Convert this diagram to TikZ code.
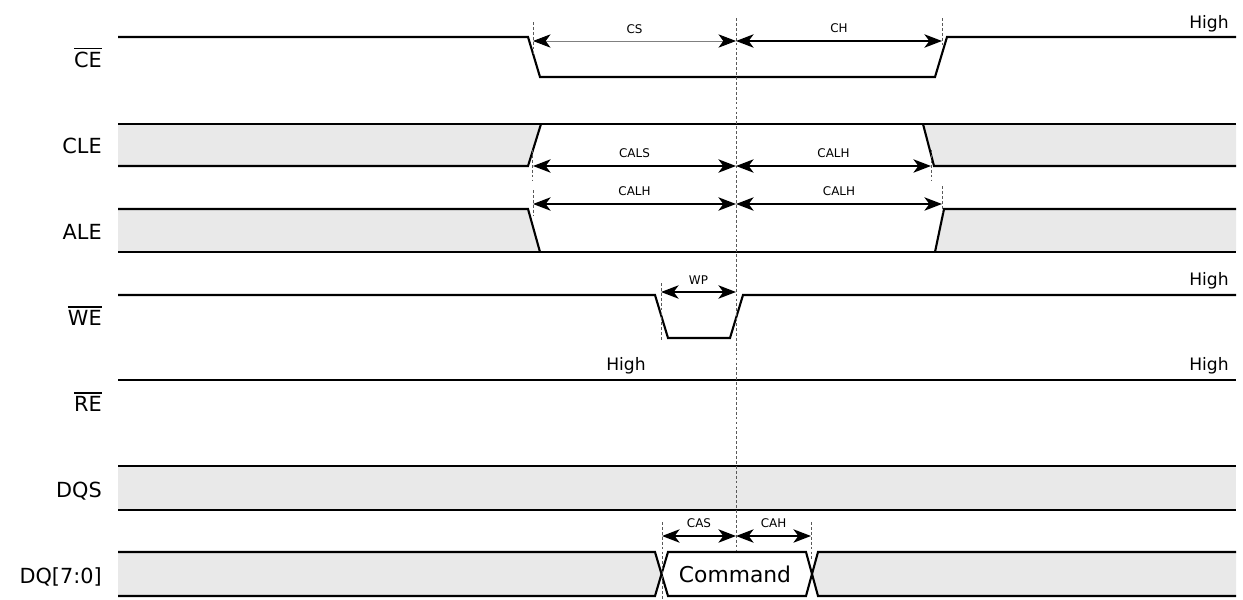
\documentclass[tikz,border=0pt]{standalone}
\usepackage{fontspec}
\setmainfont{DejaVu Sans}
\usetikzlibrary{arrows.meta, positioning, calc}
\definecolor{BusGray}{HTML}{E9E9E9}
\newcommand{\barsig}[1]{\vbox{\hrule height 1.2pt\kern1.5pt\hbox{#1}}}

\tikzset{
  sig/.style={line width=1.5pt, line join=miter},
  busfill/.style={fill=BusGray, draw=none},
  tickline/.style={gray!70!black, line width=0.4pt, dash pattern=on 2pt off 1.5pt},
  dim/.style={<->, line width=1.3pt},
  signame/.style={font=\fontsize{14.8}{16}\selectfont, anchor=base east, inner sep=0pt},
  highlbl/.style={font=\fontsize{12.2}{14}\selectfont, inner sep=0pt},
  tlbl/.style={font=\fontsize{8.5}{10}\selectfont, inner sep=0pt, midway, above=5pt}
}

\begin{document}
\begin{tikzpicture}[x=0.025cm, y=-0.025cm,
  >={Stealth[length=12.5pt, width=9.5pt, inset=3.5pt]}]
  \useasboundingbox (0,0) rectangle (1243,599);

  % --- timing points ---
  \coordinate (tCS)  at (533,0);
  \coordinate (tWP)  at (661,0);
  \coordinate (tRef) at (736,0);
  \coordinate (tCAH) at (811,0);
  \coordinate (tCLE) at (931,0);
  \coordinate (tCH)  at (942,0);

  % --- signal names ---
  \node[signame] (nCE)  at (102,67)  {\barsig{CE}};
  \node[signame] (nCLE) at (102,153) {CLE};
  \node[signame] (nALE) at (102,239) {ALE};
  \node[signame] (nWE)  at (102,325) {\barsig{WE}};
  \node[signame] (nRE)  at (102,411) {\barsig{RE}};
  \node[signame] (nDQS) at (102,497) {DQS};
  \node[signame] (nDQ)  at (102,583) {DQ[7:0]};

  % --- CE ---
  \draw[sig] (118,37) -- (528,37) -- (540,77) -- (935,77) -- (947,37) -- (1236,37);
  \node[highlbl, anchor=base east] (hCE) at (1229,28) {High};

  % --- CLE ---
  \fill[busfill] (118,124) -- (541,124) -- (528,166) -- (118,166) -- cycle;
  \fill[busfill] (923,124) -- (1236,124) -- (1236,166) -- (934,166) -- cycle;
  \draw[sig] (118,124) -- (1236,124);
  \draw[sig] (118,166) -- (528,166) -- (541,124);
  \draw[sig] (923,124) -- (934,166) -- (1236,166);

  % --- ALE ---
  \fill[busfill] (118,209) -- (528,209) -- (540,252) -- (118,252) -- cycle;
  \fill[busfill] (944,209) -- (1236,209) -- (1236,252) -- (935,252) -- cycle;
  \draw[sig] (118,252) -- (1236,252);
  \draw[sig] (118,209) -- (528,209) -- (540,252);
  \draw[sig] (935,252) -- (944,209) -- (1236,209);

  % --- WE ---
  \draw[sig] (118,295) -- (655,295) -- (668,338) -- (730,338) -- (743,295) -- (1236,295);
  \node[highlbl, anchor=base east] (hWE) at (1229,285) {High};

  % --- RE ---
  \draw[sig] (118,380) -- (1236,380);
  \node[highlbl, anchor=base] (hREa) at (626,370) {High};
  \node[highlbl, anchor=base east] (hREb) at (1229,370) {High};

  % --- DQS ---
  \fill[busfill] (118,466) rectangle (1236,510);
  \draw[sig] (118,466) -- (1236,466);
  \draw[sig] (118,510) -- (1236,510);

  % --- DQ[7:0] ---
  \fill[busfill] (118,552) -- (655,552) -- (661.5,574) -- (655,596) -- (118,596) -- cycle;
  \fill[busfill] (1236,552) -- (818,552) -- (812,574) -- (818,596) -- (1236,596) -- cycle;
  \draw[sig] (118,552) -- (655,552) -- (668,596) -- (806,596) -- (818,552) -- (1236,552);
  \draw[sig] (118,596) -- (655,596) -- (668,552) -- (806,552) -- (818,596) -- (1236,596);
  \node[font=\fontsize{15.5}{17}\selectfont, anchor=base, inner sep=0pt] (cmd) at (735,582) {Command};

  % --- markers ---
  \draw[tickline] (tRef |- 0,18) -- (tRef |- 0,550);
  \draw[tickline] (tCS |- 0,22) -- (tCS |- 0,55);
  \draw[tickline] (tCH |- 0,18) -- (tCH |- 0,45);
  \draw[tickline] (532,150) -- (532,180);
  \draw[tickline] (tCLE |- 0,150) -- (tCLE |- 0,180);
  \draw[tickline] (tCS |- 0,190) -- (tCS |- 0,215);
  \draw[tickline] (tCH |- 0,186) -- (tCH |- 0,215);
  \draw[tickline] (tWP |- 0,283) -- (tWP |- 0,340);
  \draw[tickline] (662,522) -- (662,599);
  \draw[tickline] (tCAH |- 0,522) -- (tCAH |- 0,560);

  % --- timing parameters ---
  \draw[dim, line width=0.6pt, gray, >={Stealth[length=12.5pt, width=9.5pt, inset=3.5pt, black]}]
    (tCS |- 0,41) -- node[tlbl, black] (lCS) {CS} (tRef |- 0,41);
  \draw[dim] (tRef |- 0,41) -- node[tlbl] (lCH) {CH} (tCH |- 0,41);
  \draw[dim] (tCS |- 0,166) -- node[tlbl] (lCALS) {CALS} (tRef |- 0,166);
  \draw[dim] (tRef |- 0,166) -- node[tlbl] (lCALHa) {CALH} (tCLE |- 0,166);
  \draw[dim] (tCS |- 0,204) -- node[tlbl] (lCALHb) {CALH} (tRef |- 0,204);
  \draw[dim] (tRef |- 0,204) -- node[tlbl] (lCALHc) {CALH} (tCH |- 0,204);
  \draw[dim] (tWP |- 0,292) -- node[tlbl] (lWP) {WP} (tRef |- 0,292);
  \draw[dim] (662,536) -- node[tlbl] (lCAS) {CAS} (tRef |- 0,536);
  \draw[dim] (tRef |- 0,536) -- node[tlbl] (lCAH) {CAH} (tCAH |- 0,536);
\end{tikzpicture}
\end{document}
